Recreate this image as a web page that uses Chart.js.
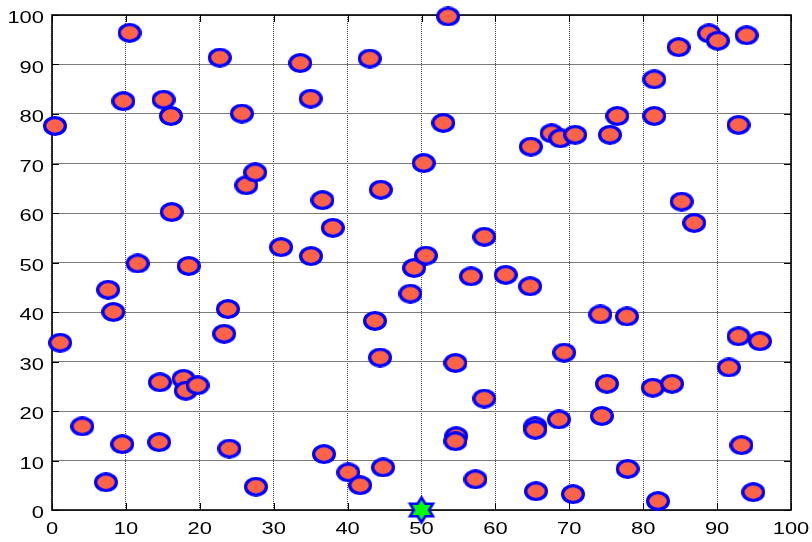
<!DOCTYPE html>
<html>
<head>
<meta charset="utf-8">
<script src="https://cdn.jsdelivr.net/npm/chart.js@4/dist/chart.umd.min.js"></script>
<style>
  html, body { margin: 0; padding: 0; background: #fff; }
  canvas { display: block; }
</style>
</head>
<body>
<canvas id="c" width="812" height="542"></canvas>
<script>
// Node positions (x, y) in the 100 x 100 field
const nodeX = [
  0.4, 1.1, 4.1, 7.3, 7.6, 8.3, 9.5, 9.65, 10.5, 11.6,
  14.5, 14.6, 15.1, 16.1, 16.2, 17.8, 18.1, 19.7, 18.5, 22.7,
  23.3, 23.8, 24.0, 25.7, 26.3, 27.5, 27.6, 31.0, 33.6, 35.0,
  35.05, 36.6, 36.8, 38.0, 40.1, 41.7, 43.0, 43.7, 44.5, 44.4,
  44.8, 48.5, 49.0, 50.3, 50.6, 52.95, 53.6, 54.6, 54.7, 54.6,
  56.7, 57.3, 58.5, 58.5, 61.4, 64.8, 64.7, 65.4, 65.4, 65.5,
  67.6, 68.8, 70.8, 68.6, 69.3, 70.5, 74.2, 74.4, 75.1, 75.5,
  76.5, 77.8, 77.9, 81.3, 81.5, 81.5, 82.0, 83.9, 84.8, 85.2,
  86.9, 88.9, 90.1, 91.6, 92.9, 92.9, 93.3, 94.0, 95.8, 94.9
];
const nodeY = [
  77.6, 33.8, 16.9, 5.6, 44.5, 40.0, 13.3, 82.6, 96.4, 49.8,
  13.7, 25.8, 82.9, 79.6, 60.2, 26.5, 24.1, 25.2, 49.3, 91.4,
  35.6, 40.6, 12.4, 80.1, 65.6, 68.2, 4.7, 53.1, 90.3, 83.1,
  51.3, 62.6, 11.3, 57.0, 7.6, 5.0, 91.2, 38.2, 64.7, 30.8,
  8.6, 43.7, 48.9, 70.1, 51.4, 78.2, 99.7, 29.7, 14.9, 13.9,
  47.2, 6.2, 55.2, 22.5, 47.5, 73.4, 45.2, 16.9, 16.2, 3.8,
  76.1, 75.1, 75.8, 18.3, 31.8, 3.2, 39.5, 19.0, 25.5, 75.8,
  79.6, 39.1, 8.3, 24.7, 87.0, 79.6, 1.8, 25.5, 93.5, 62.3,
  58.0, 96.3, 94.8, 28.8, 77.8, 35.1, 13.1, 95.9, 34.1, 3.6
];
// Sink / base station
const sinkX = [50];
const sinkY = [0];

// Axis ranges
const axisMin = 0;
const axisMax = 100;
const tickStep = 10;

// Marker sprites
function ellipseSprite(w, h, lw, fill, stroke) {
  const cv = document.createElement('canvas');
  cv.width = w; cv.height = h;
  const g = cv.getContext('2d');
  g.beginPath();
  g.ellipse(w / 2, h / 2, w / 2 - lw / 2, h / 2 - lw / 2, 0, 0, Math.PI * 2);
  g.fillStyle = fill;
  g.fill();
  g.lineWidth = lw;
  g.strokeStyle = stroke;
  g.stroke();
  return cv;
}
function hexagramSprite(w, h, rx, ry, lw, fill, stroke) {
  const cv = document.createElement('canvas');
  cv.width = w; cv.height = h;
  const g = cv.getContext('2d');
  const cx = w / 2, cy = h / 2;
  g.beginPath();
  for (let i = 0; i < 12; i++) {
    const a = -Math.PI / 2 + i * Math.PI / 6;
    const r = (i % 2 === 0) ? 1 : 0.577;
    const px = cx + Math.cos(a) * rx * r;
    const py = cy + Math.sin(a) * ry * r;
    if (i === 0) g.moveTo(px, py); else g.lineTo(px, py);
  }
  g.closePath();
  g.fillStyle = fill;
  g.fill();
  g.lineWidth = lw;
  g.lineJoin = 'miter';
  g.strokeStyle = stroke;
  g.stroke();
  return cv;
}

const nodeSprite = ellipseSprite(24, 20, 3.3, '#FF6347', '#0000FF');
const sinkSprite = hexagramSprite(34, 34, 13.2, 12.5, 2.6, '#00FF00', '#0000FF');

const nodes = nodeX.map((x, i) => ({ x: x, y: nodeY[i] }));
const sink = sinkX.map((x, i) => ({ x: x, y: sinkY[i] }));

// Frame with inward tick marks plus horizontally widened tick labels
const LABEL_STRETCH = 1.37;
const framePlugin = {
  id: 'frame',
  beforeDatasetsDraw(chart) {
    const { ctx, chartArea: a, scales } = chart;
    const tl = 7;
    ctx.save();
    ctx.strokeStyle = '#000';
    ctx.lineWidth = 1;
    ctx.beginPath();
    scales.x.ticks.forEach(t => {
      const px = Math.round(scales.x.getPixelForValue(t.value)) + 0.5;
      ctx.moveTo(px, a.bottom); ctx.lineTo(px, a.bottom - tl);
      ctx.moveTo(px, a.top); ctx.lineTo(px, a.top + tl);
    });
    scales.y.ticks.forEach(t => {
      const py = Math.round(scales.y.getPixelForValue(t.value)) + 0.5;
      ctx.moveTo(a.left, py); ctx.lineTo(a.left + tl, py);
      ctx.moveTo(a.right, py); ctx.lineTo(a.right - tl, py);
    });
    ctx.stroke();
    ctx.lineWidth = 1.6;
    ctx.strokeRect(a.left, a.top, a.right - a.left, a.bottom - a.top);

    ctx.fillStyle = '#000';
    ctx.font = '16px "Liberation Sans", Arial, sans-serif';
    ctx.textBaseline = 'alphabetic';
    // y labels
    ctx.textAlign = 'right';
    scales.y.ticks.forEach(t => {
      const py = scales.y.getPixelForValue(t.value);
      ctx.save();
      ctx.scale(LABEL_STRETCH, 1);
      ctx.fillText(t.label, 44 / LABEL_STRETCH, py + 8);
      ctx.restore();
    });
    // x labels
    ctx.textAlign = 'center';
    scales.x.ticks.forEach(t => {
      const px = scales.x.getPixelForValue(t.value);
      ctx.save();
      ctx.scale(LABEL_STRETCH, 1);
      ctx.fillText(t.label, px / LABEL_STRETCH, a.bottom + 23.5);
      ctx.restore();
    });
    ctx.restore();
  }
};

new Chart(document.getElementById('c'), {
  type: 'scatter',
  data: {
    datasets: [
      {
        label: 'Sensor nodes',
        data: nodes,
        pointStyle: nodeSprite,
        pointRadius: 11,
        pointHoverRadius: 11,
        clip: false
      },
      {
        label: 'Sink',
        data: sink,
        pointStyle: sinkSprite,
        pointRadius: 14,
        pointHoverRadius: 14,
        clip: false
      }
    ]
  },
  options: {
    responsive: false,
    devicePixelRatio: 1,
    animation: false,
    events: [],
    layout: { padding: { left: 52, top: 14, right: 21, bottom: 32 } },
    plugins: { legend: { display: false }, tooltip: { enabled: false } },
    scales: {
      x: {
        type: 'linear',
        min: axisMin, max: axisMax,
        ticks: { stepSize: tickStep, display: false },
        grid: { color: '#444', lineWidth: 1, drawTicks: false },
        border: { display: false, dash: [1, 1] }
      },
      y: {
        type: 'linear',
        min: axisMin, max: axisMax,
        ticks: { stepSize: tickStep, display: false },
        grid: { color: '#7a7a7a', lineWidth: 1, drawTicks: false },
        border: { display: false }
      }
    }
  },
  plugins: [framePlugin]
});
</script>
</body>
</html>
